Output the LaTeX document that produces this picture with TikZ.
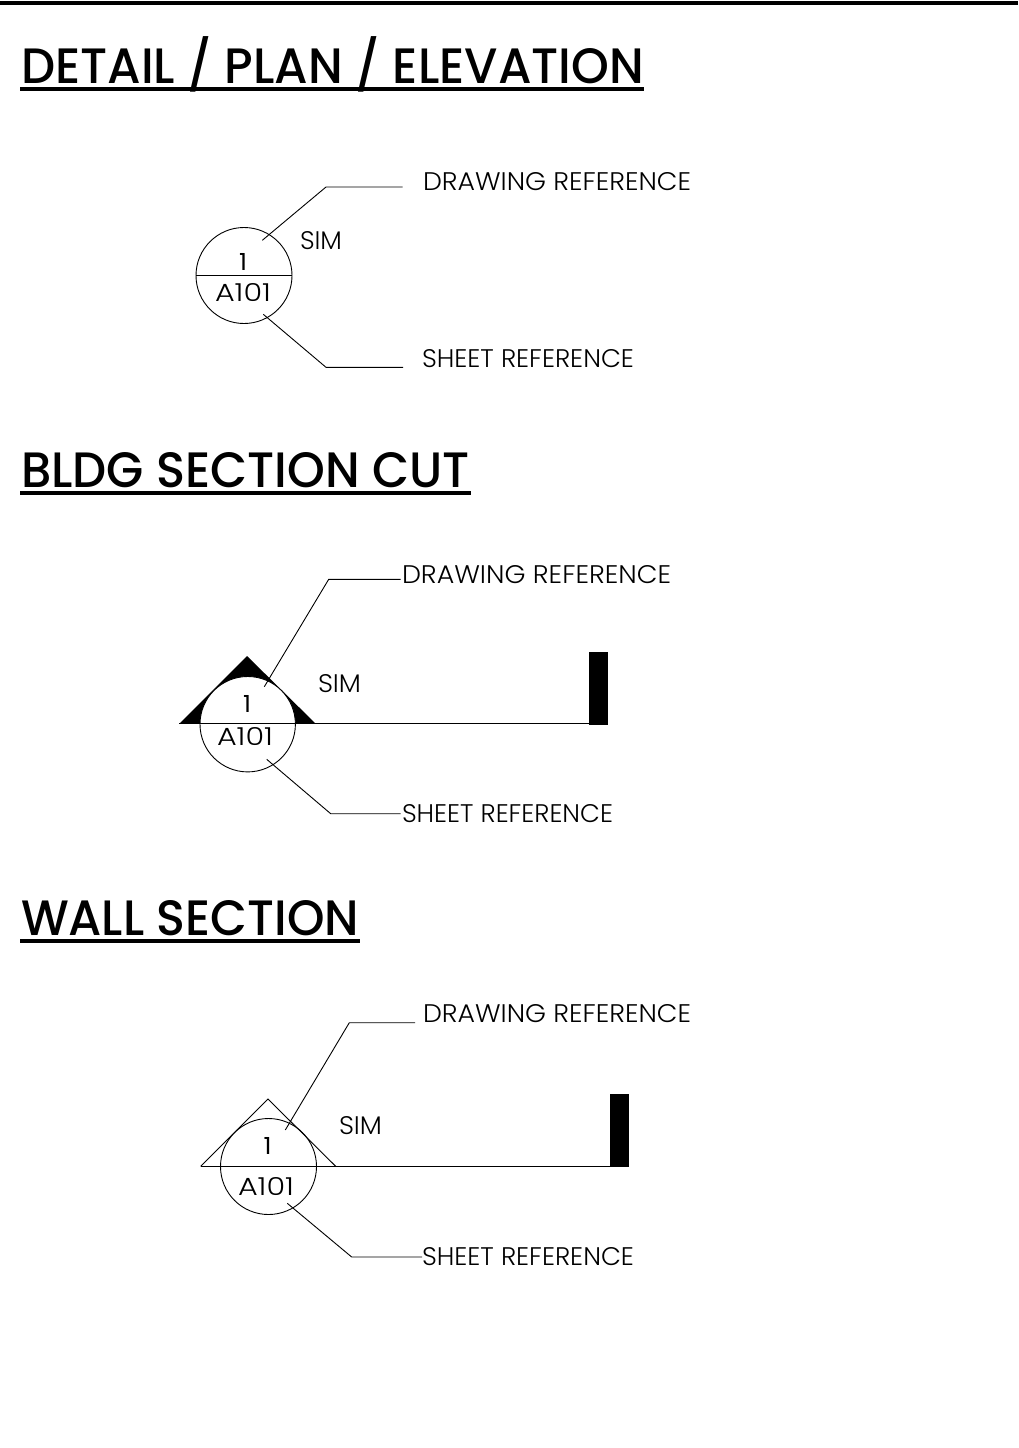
\documentclass[tikz,border=0pt]{standalone}
\usepackage{fontspec}
\usepackage{graphicx}
\setmainfont{Poppins}
\newfontfamily\lightfont{Poppins Light}
\newfontfamily\mediumfont{Poppins Medium}
\newcommand{\fitlabel}[3]{\resizebox{#1pt}{#2pt}{\lightfont\fontsize{20}{24}\selectfont #3}}
\newcommand{\fitnum}[3]{\resizebox{#1pt}{#2pt}{\fontsize{20}{24}\selectfont #3}}
\newcommand{\fittitle}[3]{\resizebox{#1pt}{#2pt}{\mediumfont\fontsize{36}{40}\selectfont #3}}
\tikzset{
  lab/.style={inner sep=0pt,outer sep=0pt,anchor=base west,black},
  bubble/.style={circle,draw=black,line width=0.9pt,minimum size=96pt,inner sep=0pt,fill=white},
  leader/.style={draw=black,line width=0.9pt},
  heavy/.style={draw=black,line width=3.6pt}
}
\begin{document}
\begin{tikzpicture}[x=1pt,y=-1pt]
\useasboundingbox[fill=white] (0,0) rectangle (1018,1448);
% top rule
\coordinate (tl) at (0,2.7); \coordinate (tr) at (1018,2.7);
\draw[heavy] (tl) -- (tr);
% titles
\node[lab] (t1) at (21,83) {\fittitle{623}{35}{DETAIL \smash{/} PLAN \smash{/} ELEVATION}};
\coordinate (t1a) at (20,89); \coordinate (t1b) at (644,89);
\draw[heavy] (t1a) -- (t1b);
\node[lab] (t2) at (21,487) {\fittitle{449}{35}{BLDG SECTION CUT}};
\coordinate (t2a) at (20,493); \coordinate (t2b) at (471,493);
\draw[heavy] (t2a) -- (t2b);
\node[lab] (t3) at (21,935) {\fittitle{338}{35}{WALL SECTION}};
\coordinate (t3a) at (20,941); \coordinate (t3b) at (360,941);
\draw[heavy] (t3a) -- (t3b);

% --- detail
\node[bubble] (c1) at (244,275.5) {};
\coordinate (c1w) at (196,275.5); \coordinate (c1e) at (292,275.5);
\draw[leader] (c1w) -- (c1e);
\coordinate (a1) at (262.3,240.3); \coordinate (a2) at (326,187); \coordinate (a3) at (402.7,187);
\draw[leader] (a1) -- (a2) -- (a3);
\coordinate (b1) at (263.3,314.3); \coordinate (b2) at (326,367.3); \coordinate (b3) at (403,367.3);
\draw[leader] (b1) -- (b2) -- (b3);
\node[lab] at (423,190) {\fitlabel{268}{18}{DRAWING REFERENCE}};
\node[lab] at (422,367) {\fitlabel{212}{18}{SHEET REFERENCE}};
\node[lab] at (300,249) {\fitlabel{42}{18}{SIM}};
\node[lab] at (239,270) {\fitnum{8}{17}{1}};
\node[lab] at (215,301) {\fitlabel{56}{18}{A101}};

% --- bldg section
\coordinate (p1) at (247,656); \coordinate (p2) at (179.3,723.7); \coordinate (p3) at (315.7,723.7);
\fill[black] (p1) -- (p2) -- (p3) -- cycle;
\node[bubble,minimum size=95.4pt] (c2) at (247.7,724.2) {};
\coordinate (r2) at (589,723.7);
\draw[leader,line width=1.1pt] (p2) -- (r2);
\coordinate (q1) at (589,651.7); \coordinate (q2) at (607.7,725);
\fill[black] (q1) rectangle (q2);
\coordinate (d1) at (264.3,686.7); \coordinate (d2) at (328.7,579.3); \coordinate (d3) at (400.7,579.3);
\draw[leader] (d1) -- (d2) -- (d3);
\coordinate (e1) at (266.7,759.3); \coordinate (e2) at (330.7,813.7); \coordinate (e3) at (400.7,813.7);
\draw[leader] (e1) -- (e2) -- (e3);
\node[lab] at (402,583) {\fitlabel{269}{18}{DRAWING REFERENCE}};
\node[lab] at (402,822) {\fitlabel{211}{18}{SHEET REFERENCE}};
\node[lab] at (318,692) {\fitlabel{43}{18}{SIM}};
\node[lab] at (243,712) {\fitnum{8}{17}{1}};
\node[lab] at (217,745) {\fitlabel{56}{18}{A101}};

% --- wall section
\coordinate (u1) at (268,1099); \coordinate (u2) at (200.7,1166.3); \coordinate (u3) at (335.7,1166.3);
\draw[leader] (u2) -- (u1) -- (u3);
\node[bubble,fill=none] (c3) at (268.5,1166.5) {};
\coordinate (r3) at (609.7,1166.3);
\draw[leader] (u2) -- (r3);
\coordinate (v1) at (609.7,1094.3); \coordinate (v2) at (628.7,1166.7);
\fill[black] (v1) rectangle (v2);
\coordinate (f1) at (285.3,1130); \coordinate (f2) at (349.3,1022.7); \coordinate (f3) at (415,1022.7);
\draw[leader] (f1) -- (f2) -- (f3);
\coordinate (g1) at (287.3,1203.3); \coordinate (g2) at (351.7,1257); \coordinate (g3) at (422,1257);
\draw[leader] (g1) -- (g2) -- (g3);
\node[lab] at (423,1022) {\fitlabel{268}{18}{DRAWING REFERENCE}};
\node[lab] at (422,1265) {\fitlabel{212}{18}{SHEET REFERENCE}};
\node[lab] at (339,1134) {\fitlabel{43}{18}{SIM}};
\node[lab] at (263.5,1154) {\fitnum{8}{17}{1}};
\node[lab] at (238,1195) {\fitlabel{56}{18}{A101}};
\end{tikzpicture}
\end{document}
